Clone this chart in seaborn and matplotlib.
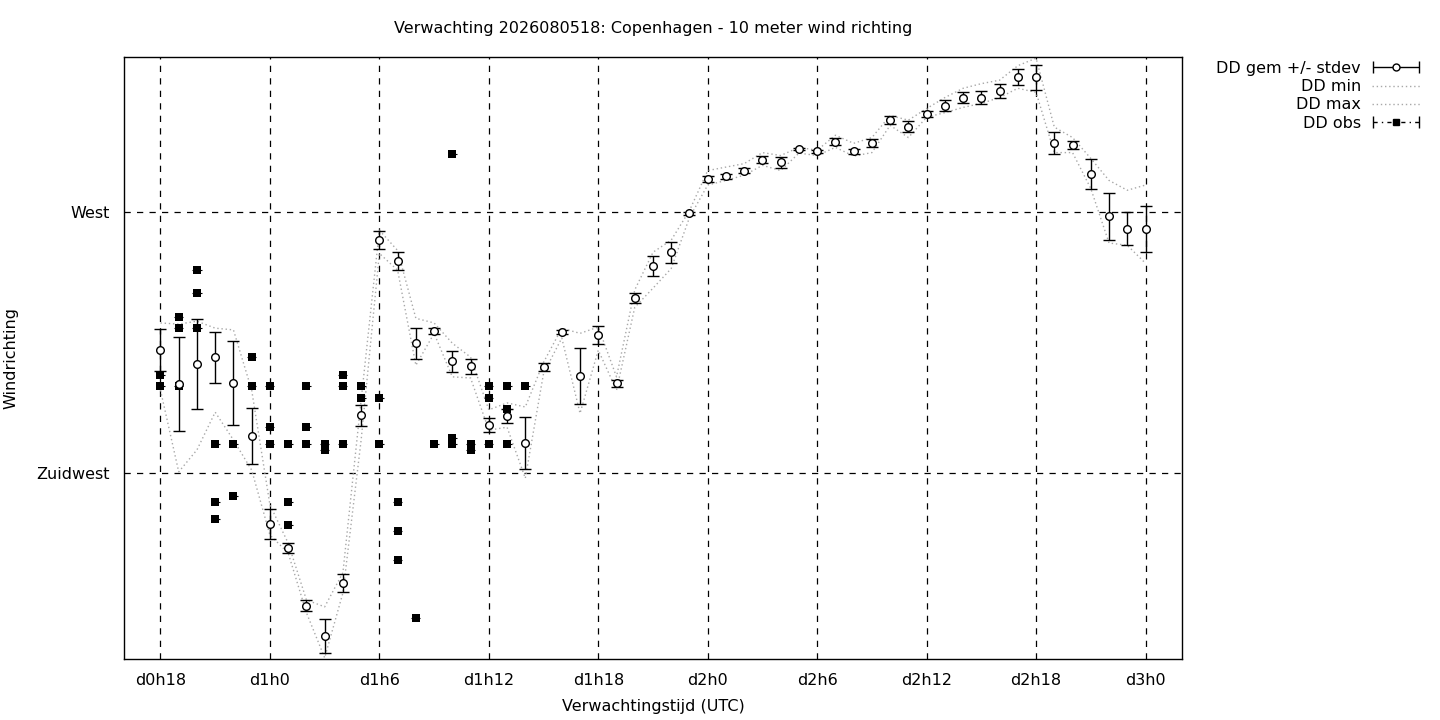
import numpy as np
import pandas as pd
import matplotlib
matplotlib.use("Agg")
import matplotlib.pyplot as plt
from matplotlib.container import ErrorbarContainer
from matplotlib.legend_handler import HandlerErrorbar
import seaborn as sns

# forecast hours (hours after d0h0)
hours = list(range(18, 73))

dd_mean = [246.2, 240.3, 243.8, 245.0, 240.5, 231.4, 216.2, 212.1, 202.1, 196.9,
           206.0, 235.0, 265.2, 261.6, 247.4, 249.5, 244.3, 243.4, 233.3, 234.8,
           230.2, 243.3, 249.3, 241.7, 248.8, 240.5, 255.2, 260.7, 263.1, 269.8,
           275.7, 276.2, 277.2, 279.1, 278.6, 280.9, 280.5, 282.2, 280.5, 281.9,
           286.0, 284.8, 286.9, 288.4, 289.8, 289.8, 290.9, 293.3, 293.3, 281.9,
           281.6, 276.6, 269.3, 267.2, 267.1]

dd_sd = [3.6, 8.1, 7.8, 4.4, 7.2, 4.8, 2.6, 0.9, 1.0, 2.9,
         1.6, 1.8, 1.6, 1.6, 2.7, 0.5, 1.8, 1.3, 1.2, 1.2,
         4.5, 0.7, 0.3, 4.8, 1.5, 0.6, 0.9, 1.7, 1.8, 0.2,
         0.5, 0.4, 0.5, 0.6, 0.9, 0.2, 0.2, 0.6, 0.5, 0.7,
         0.7, 1.0, 0.5, 0.9, 1.0, 1.1, 1.2, 1.4, 2.2, 1.9,
         0.7, 2.6, 4.1, 2.8, 4.0]

dd_min = [239.3, 225.2, 229.0, 235.5, 230.7, 225.5, 214.3, 211.2, 200.9, 193.1,
          204.3, 230.7, 262.9, 260.0, 243.6, 249.1, 241.6, 241.4, 232.4, 232.9,
          224.1, 242.2, 248.3, 235.3, 246.2, 239.3, 253.6, 256.9, 260.3, 269.1,
          274.7, 275.5, 276.4, 278.1, 277.2, 280.2, 279.8, 281.2, 279.7, 280.3,
          285.0, 282.9, 286.4, 287.2, 288.1, 288.8, 289.8, 291.4, 290.7, 280.3,
          280.3, 274.1, 264.7, 264.3, 261.2]

dd_max = [250.9, 250.7, 251.2, 250.0, 249.7, 239.3, 219.5, 212.9, 203.1, 201.9,
          207.8, 237.6, 266.9, 263.4, 251.7, 250.9, 247.4, 245.0, 235.9, 237.1,
          236.4, 244.1, 250.0, 249.1, 250.2, 241.6, 256.6, 263.1, 265.2, 270.3,
          277.2, 277.8, 278.4, 280.3, 279.8, 281.2, 280.7, 283.3, 281.9, 282.9,
          286.7, 285.9, 287.9, 289.8, 291.4, 292.2, 292.8, 295.3, 296.6, 284.7,
          282.9, 279.3, 275.5, 273.8, 274.7]

# observations
obs_hours = [18, 18, 19, 19, 19, 20, 20, 20, 21, 21, 21, 22, 22, 23, 23,
             24, 24, 24, 25, 25, 25, 26, 26, 26, 27, 27, 28, 28, 28, 29, 29,
             30, 30, 31, 31, 31, 32, 33, 34, 34, 34, 35, 35, 36, 36, 36,
             37, 37, 37, 38]
obs_dd = [242, 240, 252, 250, 240, 260, 256, 250, 230, 220, 217, 230, 221, 245, 240,
          240, 233, 230, 230, 220, 216, 240, 233, 230, 230, 229, 242, 240, 230, 240, 238,
          238, 230, 220, 215, 210, 200, 230, 280, 231, 230, 230, 229, 240, 238, 230,
          240, 236, 230, 240]

tick_hours = list(range(18, 73, 6))
tick_labels = ['d{}h{}'.format(h // 24, h % 24) for h in tick_hours]
y_ticks = [225, 270]
y_labels = ['Zuidwest', 'West']

fc = pd.DataFrame({'uur': hours, 'gem': dd_mean, 'sd': dd_sd, 'min': dd_min, 'max': dd_max})
obs = pd.DataFrame({'uur': obs_hours, 'dd': obs_dd})

sns.set_style("white")
plt.rcParams['font.family'] = ['DejaVu Sans']
plt.rcParams['text.color'] = 'black'
plt.rcParams['axes.labelcolor'] = 'black'
fs = 11.5

fig = plt.figure(figsize=(14.4, 7.2), dpi=100)
ax = fig.add_axes([124 / 1440, 1 - 659 / 720, (1182 - 124) / 1440, (659 - 57) / 720])

grey = '#a8a8a8'
dots = (0, (1, 2))
sns.lineplot(data=fc, x='uur', y='min', ax=ax, color=grey, linestyle=dots, linewidth=1.0, zorder=2)
sns.lineplot(data=fc, x='uur', y='max', ax=ax, color=grey, linestyle=dots, linewidth=1.0, zorder=2)

# obs as squares with a tiny horizontal bar
ax.errorbar(obs['uur'], obs['dd'], xerr=0.25, fmt='none', ecolor='black', elinewidth=0.8, capsize=0, zorder=3)
sns.scatterplot(data=obs, x='uur', y='dd', ax=ax, marker='s', s=40, color='black', edgecolor='black',
                linewidth=0, zorder=4)

ax.errorbar(fc['uur'], fc['gem'], yerr=fc['sd'], fmt='o', ms=5.5, mfc='white', mec='black', mew=1.0,
            ecolor='black', elinewidth=1.0, capsize=4, capthick=1.0, zorder=5)

ax.set_xlim(16, 74)
ax.set_ylim(192.9, 296.8)
ax.set_xticks(tick_hours)
ax.set_xticklabels(tick_labels)
ax.set_yticks(y_ticks)
ax.set_yticklabels(y_labels)
ax.tick_params(length=0, pad=10, labelsize=fs, colors='black')
ax.grid(True, color='black', linestyle=(0, (5, 5)), linewidth=0.9)
for s in ax.spines.values():
    s.set_color('black')
    s.set_linewidth(1.0)

ax.set_xlabel('Verwachtingstijd (UTC)', fontsize=fs, labelpad=8)
ax.set_ylabel('Windrichting', fontsize=fs)
ax.yaxis.set_label_coords(-0.1, 0.5)
ax.set_title('Verwachting 2026080518: Copenhagen - 10 meter wind richting', fontsize=fs, pad=17)

# legend handles
h_gem = ax.errorbar([np.nan], [np.nan], xerr=[1], fmt='o', ms=5, mfc='white', mec='black',
                    ecolor='black', elinewidth=1.0, capsize=4)
h_min, = ax.plot([], [], color=grey, linestyle=dots, linewidth=1.0)
h_max, = ax.plot([], [], color=grey, linestyle=dots, linewidth=1.0)
h_obs = ax.errorbar([np.nan], [np.nan], xerr=[1], fmt='s', ms=5, mfc='black', mec='black',
                    ecolor='black', elinewidth=1.0, capsize=4)
h_obs[2][0].set_linestyle((0, (3, 3, 1, 3)))

fig.legend([h_gem, h_min, h_max, h_obs], ['DD gem +/- stdev', 'DD min', 'DD max', 'DD obs'],
           loc='upper right', bbox_to_anchor=(1428 / 1440, 1 - 53 / 720), frameon=False,
           markerfirst=False, handlelength=3.0, handletextpad=0.7, labelspacing=0.2,
           borderpad=0, fontsize=fs, numpoints=1,
           handler_map={ErrorbarContainer: HandlerErrorbar(xerr_size=1.45)})

plt.savefig('out.png', dpi=100)
